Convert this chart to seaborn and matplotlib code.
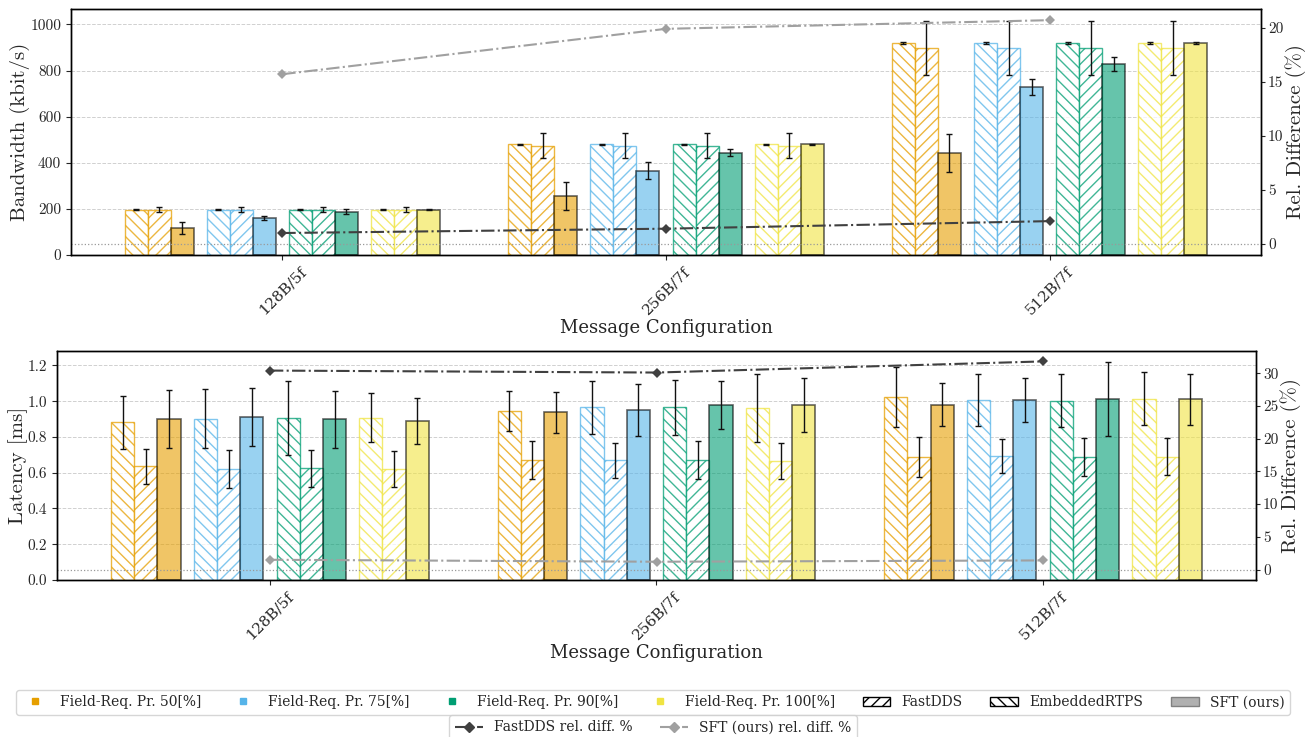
import matplotlib
matplotlib.use("Agg")
import matplotlib.pyplot as plt
import numpy as np
import seaborn as sns
from matplotlib.lines import Line2D
from matplotlib.patches import Patch

# Data
configs = ['128B/5f', '256B/7f', '512B/7f']
prios = ['Field-Req. Pr. 50[%]', 'Field-Req. Pr. 75[%]',
         'Field-Req. Pr. 90[%]', 'Field-Req. Pr. 100[%]']
colors = ['#E69F00', '#56B4E9', '#009E73', '#F0E442']

# bandwidth [kbit/s], rows = config, cols = priority
bw_erpts = [[196, 196, 196, 196], [480, 480, 480, 480], [919, 919, 919, 919]]
bw_erpts_err = [[2, 2, 2, 2], [3, 2, 2, 2], [4, 4, 4, 4]]
bw_fast = [[196, 196, 196, 196], [474, 474, 474, 474], [899, 899, 899, 899]]
bw_fast_err = [[11, 11, 11, 11], [54, 54, 54, 54], [117, 117, 117, 117]]
bw_sft = [[118, 160, 188, 196], [255, 366, 444, 480], [443, 729, 829, 919]]
bw_sft_err = [[27, 10, 12, 3], [61, 37, 16, 2], [82, 33, 30, 4]]
bw_rel_fast = [1.0, 1.4, 2.1]
bw_rel_sft = [15.7, 19.9, 20.7]

# latency [ms]
lat_erpts = [[0.883, 0.903, 0.906, 0.909], [0.947, 0.965, 0.966, 0.964], [1.024, 1.009, 1.004, 1.015]]
lat_erpts_err = [[0.148, 0.165, 0.205, 0.135], [0.112, 0.149, 0.155, 0.190], [0.166, 0.146, 0.147, 0.147]]
lat_fast = [[0.636, 0.621, 0.624, 0.621], [0.673, 0.670, 0.673, 0.664], [0.687, 0.696, 0.688, 0.690]]
lat_fast_err = [[0.097, 0.108, 0.103, 0.103], [0.106, 0.098, 0.107, 0.100], [0.113, 0.095, 0.106, 0.102]]
lat_sft = [[0.901, 0.912, 0.898, 0.890], [0.938, 0.952, 0.978, 0.977], [0.980, 1.007, 1.012, 1.012]]
lat_sft_err = [[0.163, 0.160, 0.160, 0.127], [0.115, 0.147, 0.134, 0.151], [0.121, 0.124, 0.208, 0.143]]
lat_rel_fast = [30.4, 30.1, 31.8]
lat_rel_sft = [1.5, 1.2, 1.4]

sns.set_style('ticks')
plt.rcParams['font.family'] = 'serif'
plt.rcParams['font.serif'] = ['DejaVu Serif']
plt.rcParams['hatch.linewidth'] = 1.0
CM = 'cmr10'

W = 0.06      # bar width
STEP = 0.214  # distance between priority sub-groups


def col(data, c):
    return [row[c] for row in data]


def draw_panel(ax, erpts, erpts_err, fast, fast_err, sft, sft_err,
               rel_fast, rel_sft, ylabel):
    x = np.arange(len(configs))
    ekw = dict(elinewidth=1, capthick=1, ecolor='#111111')
    for c, color in enumerate(colors):
        off = (c - 1.5) * STEP
        ax.bar(x + off - W, col(erpts, c), W, yerr=col(erpts_err, c), capsize=2.5,
               facecolor='white', edgecolor=color, hatch='\\\\\\', linewidth=1,
               alpha=0.75, error_kw=ekw)
        ax.bar(x + off, col(fast, c), W, yerr=col(fast_err, c), capsize=2.5,
               facecolor='white', edgecolor=color, hatch='///', linewidth=1,
               alpha=0.75, error_kw=ekw)
        ax.bar(x + off + W, col(sft, c), W, yerr=col(sft_err, c), capsize=2.5,
               facecolor=color, edgecolor='black', linewidth=1.2,
               alpha=0.6, error_kw=ekw)

    top = max(max(v + e for v, e in zip(r, re)) for d, de in
              [(erpts, erpts_err), (fast, fast_err), (sft, sft_err)]
              for r, re in zip(d, de))
    ax.set_xlim(x[0] - 0.551, x[-1] + 0.551)
    ax.yaxis.grid(True, linestyle='--', color='#d0d0d0', linewidth=0.7)
    ax.set_axisbelow(True)
    ax.set_xticks(x)
    ax.set_xticklabels(configs, rotation=45, fontsize=11)
    ax.set_xlabel('Message Configuration', fontsize=13, labelpad=1)
    ax.set_ylabel(ylabel, fontsize=15, fontname=CM, labelpad=0)

    ax2 = ax.twinx()
    sns.lineplot(x=x, y=rel_fast, ax=ax2, color='#404040', marker='D',
                 markersize=5, markeredgewidth=0, linestyle='-.',
                 linewidth=1.5, legend=False)
    sns.lineplot(x=x, y=rel_sft, ax=ax2, color='#a0a0a0', marker='D',
                 markersize=5, markeredgewidth=0, linestyle='-.',
                 linewidth=1.5, legend=False)
    ax2.axhline(0, color='#999999', linestyle=':', linewidth=0.9)
    m = max(max(rel_fast), max(rel_sft))
    ax2.set_ylabel('Rel. Difference (%)', fontsize=15, fontname=CM, labelpad=1)
    ax2.tick_params(axis='y', length=3, pad=2)

    ax.set_ylim(0, top * 1.05)
    ax2.set_ylim(-0.05 * m, 1.05 * m)
    for a in (ax, ax2):
        a.set_yticks(a.get_yticks())
        for t in a.get_yticklabels():
            t.set_fontname(CM)
            t.set_fontsize(11)
        for s in a.spines.values():
            s.set_visible(True)
            s.set_color('black')
            s.set_linewidth(1.0)
    ax.set_ylim(0, top * 1.05)
    ax2.set_ylim(-0.05 * m, 1.05 * m)
    return ax2


fig = plt.figure(figsize=(13.06, 7.37), dpi=100)
ax_bw = fig.add_axes([71 / 1306, 1 - 255 / 737, 1190 / 1306, 246 / 737])
ax_lat = fig.add_axes([57 / 1306, 1 - 580 / 737, 1199 / 1306, 229 / 737])

draw_panel(ax_bw, bw_erpts, bw_erpts_err, bw_fast, bw_fast_err, bw_sft, bw_sft_err,
           bw_rel_fast, bw_rel_sft, 'Bandwidth (kbit/s)')
draw_panel(ax_lat, lat_erpts, lat_erpts_err, lat_fast, lat_fast_err, lat_sft, lat_sft_err,
           lat_rel_fast, lat_rel_sft, 'Latency [ms]')

handles = [Line2D([], [], marker='s', linestyle='none', color=c, markersize=5) for c in colors]
handles += [Patch(facecolor='white', edgecolor='black', hatch='///'),
            Patch(facecolor='white', edgecolor='black', hatch='\\\\\\'),
            Patch(facecolor='#b0b0b0', edgecolor='#808080')]
fig.legend(handles, prios + ['FastDDS', 'EmbeddedRTPS', 'SFT (ours)'],
           loc='center', bbox_to_anchor=(0.5, 0.047), ncol=7, fontsize=10)

line_handles = [Line2D([], [], color='#404040', marker='D', markersize=5, linestyle='-.', linewidth=1.5),
                Line2D([], [], color='#a0a0a0', marker='D', markersize=5, linestyle='-.', linewidth=1.5)]
fig.legend(line_handles, ['FastDDS rel. diff. %', 'SFT (ours) rel. diff. %'],
           loc='center', bbox_to_anchor=(0.5, 0.013), ncol=2, fontsize=10)

fig.savefig('out.png', dpi=100)
